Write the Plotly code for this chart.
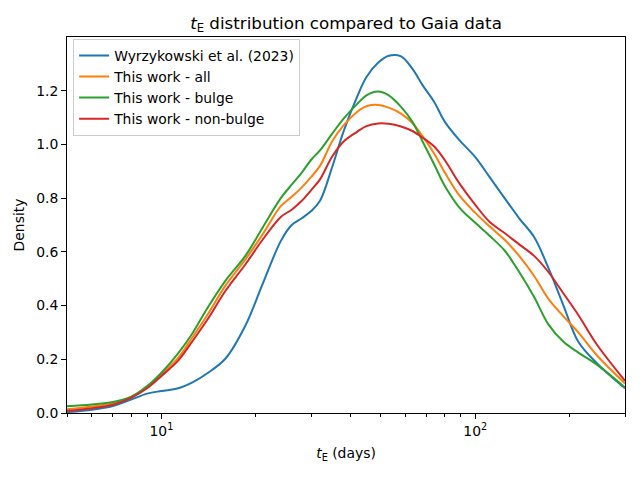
import plotly.graph_objects as go

t_days = [5, 6, 7, 8, 9, 10, 11.3, 12.6, 14, 16, 18.5, 21, 24, 26, 28, 30, 32, 35, 38, 42, 45, 49,
          53, 58, 63, 68, 74, 80, 89, 100, 111, 124, 138, 154, 171, 191, 213, 244, 300]

wyrzykowski = [0.003, 0.012, 0.026, 0.05, 0.072, 0.082, 0.092, 0.115, 0.148, 0.203, 0.325, 0.48,
               0.64, 0.70, 0.725, 0.752, 0.79, 0.916, 1.047, 1.177, 1.251, 1.304, 1.33, 1.328,
               1.282, 1.22, 1.158, 1.084, 1.016, 0.953, 0.879, 0.80, 0.725, 0.655, 0.54, 0.40,
               0.265, 0.185, 0.092]

work_all = [0.014, 0.024, 0.036, 0.06, 0.097, 0.145, 0.205, 0.285, 0.365, 0.475, 0.572, 0.665,
            0.77, 0.805, 0.84, 0.879, 0.92, 1.012, 1.07, 1.121, 1.142, 1.147, 1.137, 1.115,
            1.08, 1.03, 0.965, 0.895, 0.81, 0.745, 0.695, 0.645, 0.585, 0.51, 0.425, 0.36,
            0.30, 0.215, 0.11]

work_bulge = [0.025, 0.032, 0.041, 0.06, 0.10, 0.15, 0.222, 0.30, 0.39, 0.493, 0.585, 0.69,
              0.80, 0.85, 0.895, 0.943, 0.978, 1.04, 1.095, 1.15, 1.183, 1.197, 1.183, 1.14,
              1.085, 1.01, 0.925, 0.845, 0.765, 0.708, 0.66, 0.605, 0.525, 0.432, 0.33, 0.265,
              0.225, 0.18, 0.095]

work_nonbulge = [0.008, 0.018, 0.031, 0.056, 0.092, 0.138, 0.195, 0.27, 0.347, 0.455, 0.553, 0.645,
                 0.73, 0.757, 0.79, 0.83, 0.87, 0.955, 1.01, 1.047, 1.068, 1.078, 1.077, 1.067,
                 1.05, 1.025, 0.992, 0.941, 0.855, 0.775, 0.712, 0.67, 0.628, 0.585, 0.525, 0.445,
                 0.365, 0.255, 0.12]

series_names = ["Wyrzykowski et al. (2023)", "This work - all", "This work - bulge", "This work - non-bulge"]
series_colors = ["#1f77b4", "#ff7f0e", "#2ca02c", "#d62728"]
series_values = [wyrzykowski, work_all, work_bulge, work_nonbulge]

major_ticks = [10, 100]
major_labels = ["10<sup>1</sup>", "10<sup>2</sup>"]
minor_ticks = [5, 6, 7, 8, 9, 20, 30, 40, 50, 60, 70, 80, 90, 200, 300]
y_ticks = [0.0, 0.2, 0.4, 0.6, 0.8, 1.0, 1.2]

FONT = "DejaVu Sans"
FS = 13.9

fig = go.Figure()
for name, color, vals in zip(series_names, series_colors, series_values):
    fig.add_trace(go.Scatter(x=t_days, y=vals, mode="lines", name=name,
                             line=dict(color=color, width=2, shape="spline", smoothing=1.0)))

fig.update_layout(
    width=640, height=480,
    paper_bgcolor="white", plot_bgcolor="white",
    margin=dict(l=67, r=15, t=37, b=67),
    font=dict(family=FONT, size=FS, color="black"),
    title=dict(text="<i>t</i><sub>E</sub> distribution compared to Gaia data",
               x=0.5, xref="paper", xanchor="center",
               y=1 - 23 / 480, yref="container", yanchor="middle",
               font=dict(family=FONT, size=16.7, color="black")),
    legend=dict(x=0.011, y=0.995, xanchor="left", yanchor="top",
                bgcolor="rgba(255,255,255,0.8)", bordercolor="#cccccc", borderwidth=1,
                font=dict(family=FONT, size=FS), tracegroupgap=0,
                itemwidth=30),
    showlegend=True,
)

fig.update_xaxes(
    type="log", range=[0.69897, 2.4771],
    tickmode="array", tickvals=major_ticks, ticktext=major_labels,
    ticks="outside", ticklen=5, tickwidth=1, tickcolor="black",
    minor=dict(tickmode="array", tickvals=minor_ticks, ticks="outside", ticklen=3,
               tickwidth=0.8, tickcolor="black", showgrid=False),
    showline=True, linecolor="black", linewidth=1, mirror=True,
    showgrid=False, zeroline=False,
    tickfont=dict(family=FONT, size=FS),
    title=dict(text="<i>t</i><sub>E</sub> (days)", font=dict(family=FONT, size=FS), standoff=10),
)

fig.update_yaxes(
    range=[0, 1.40],
    tickmode="array", tickvals=y_ticks, ticktext=[f"{v:.1f}" for v in y_ticks],
    ticks="outside", ticklen=5, tickwidth=1, tickcolor="black",
    showline=True, linecolor="black", linewidth=1, mirror=True,
    showgrid=False, zeroline=False,
    tickfont=dict(family=FONT, size=FS),
    title=dict(text="Density", font=dict(family=FONT, size=FS), standoff=8),
)

fig.write_html("out.html", config={"displayModeBar": False},
               post_script="document.body.style.margin='0';document.body.style.padding='0';")
